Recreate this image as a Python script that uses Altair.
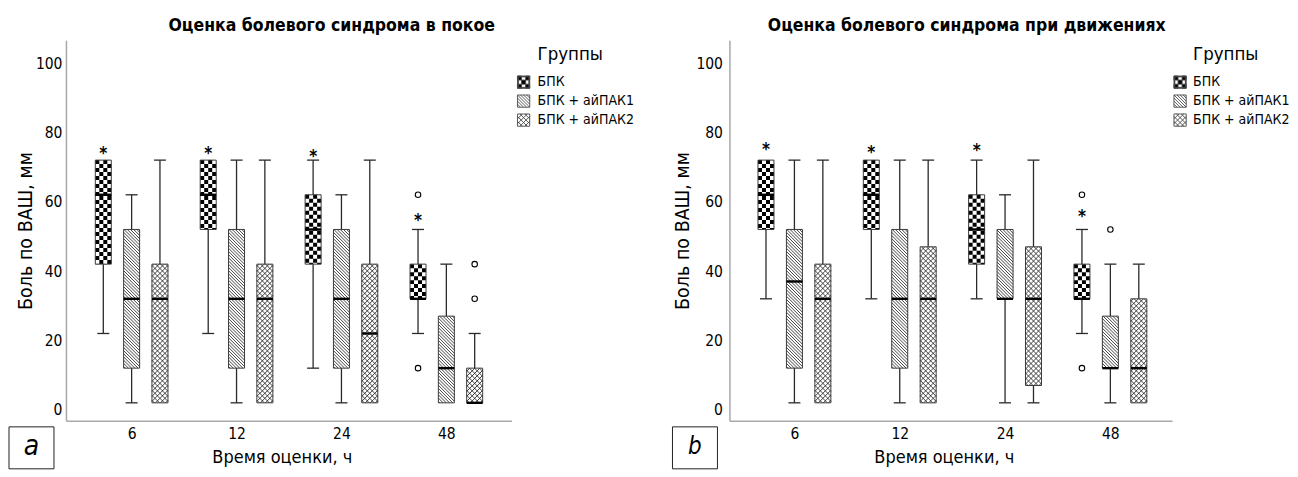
import json
import altair as alt
import pandas as pd

FONT = "Liberation Sans Narrow, DejaVu Sans Condensed, Arial Narrow, sans-serif"

# ---------------- data ----------------
times = ["6", "12", "24", "48"]
groups = ["БПК", "БПК + айПАК1", "БПК + айПАК2"]
legend_title = "Группы"
y_title = "Боль по ВАШ, мм"
x_title = "Время оценки, ч"
y_ticks = [0, 20, 40, 60, 80, 100]

# panel a: pain at rest
rest_title = "Оценка болевого синдрома в покое"
rest_min = [[22, 22, 12, 22], [2, 2, 2, 2], [2, 2, 2, 2]]
rest_q1 = [[42, 52, 42, 32], [12, 12, 12, 2], [2, 2, 2, 2]]
rest_med = [[62, 62, 52, 32], [32, 32, 32, 12], [32, 32, 22, 2]]
rest_q3 = [[72, 72, 62, 42], [52, 52, 52, 27], [42, 42, 42, 12]]
rest_max = [[72, 72, 72, 52], [62, 72, 62, 42], [72, 72, 72, 22]]
rest_out_time = [3, 3, 3, 3]
rest_out_group = [0, 0, 2, 2]
rest_out_val = [62, 12, 42, 32]
rest_star = [74.6, 74.6, 73.7, 55.4]

# panel b: pain on movement
move_title = "Оценка болевого синдрома при движениях"
move_min = [[32, 32, 32, 22], [2, 2, 2, 2], [2, 2, 2, 2]]
move_q1 = [[52, 52, 42, 32], [12, 12, 32, 12], [2, 2, 7, 2]]
move_med = [[62, 62, 52, 32], [37, 32, 32, 12], [32, 32, 32, 12]]
move_q3 = [[72, 72, 62, 42], [52, 52, 52, 27], [42, 47, 47, 32]]
move_max = [[72, 72, 72, 52], [72, 72, 62, 42], [72, 72, 72, 42]]
move_out_time = [3, 3, 3]
move_out_group = [0, 0, 1]
move_out_val = [62, 12, 52]
move_star = [75.8, 75.0, 75.6, 56.4]

# ---------------- layout / style ----------------
H = 381
YDOM = [-3.2, 106.6]
OFF = 0.27
BOX_PX = 16
AXIS_GRAY = "#a9a9a9"
TICK_FS = 15.5


def box_frame(mn, q1, md, q3, mx):
    rows = []
    for gi, g in enumerate(groups):
        for ti, t in enumerate(times):
            rows.append(dict(ti=ti, gi=gi, group=g, time=t, mn=mn[gi][ti], q1=q1[gi][ti],
                             med=md[gi][ti], q3=q3[gi][ti], mx=mx[gi][ti]))
    return pd.DataFrame(rows)


def panel(df, out_t, out_g, out_v, stars, title, letter, W, xdom, title_dx,
          lab_pad, ttl_pad, letter_size):
    kx = W / (xdom[1] - xdom[0])
    ky = H / (YDOM[1] - YDOM[0])
    hw = BOX_PX / 2 / kx
    capw = 6 / kx
    wv = BOX_PX / ky
    sh = 3.2 / ky
    sc = 5.0 / ky
    cu = 4.0 / ky
    cellx = 4.0 / kx

    xs = alt.Scale(domain=xdom, nice=False, zero=False)
    ys = alt.Scale(domain=YDOM, nice=False, zero=False)
    label_expr = json.dumps(times) + "[datum.value]"
    xaxis = alt.Axis(values=[0, 1, 2, 3], labelExpr=label_expr, ticks=False, grid=False,
                     domainColor=AXIS_GRAY, domainWidth=1.5, labelFont=FONT, labelFontSize=TICK_FS,
                     labelColor="black", labelPadding=6, title=x_title, titleFont=FONT,
                     titleFontSize=18, titleFontWeight="normal", titleColor="black",
                     titlePadding=6, titleX=W / 2 - 7)
    yaxis = alt.Axis(values=y_ticks, ticks=False, grid=False, domainColor=AXIS_GRAY,
                     domainWidth=1.5, labelFont=FONT, labelFontSize=TICK_FS, labelColor="black",
                     labelPadding=lab_pad, title=y_title, titleFont=FONT, titleFontSize=19.5,
                     titleFontWeight="normal", titleColor="black", titlePadding=ttl_pad)

    def X(f):
        return alt.X(f + ":Q", scale=xs, axis=xaxis)

    def Y(f):
        return alt.Y(f + ":Q", scale=ys, axis=yaxis)

    base = alt.Chart(df).transform_calculate(
        xpos=f"datum.ti + (datum.gi - 1) * {OFF}",
        xl=f"datum.xpos - {hw}",
        xr=f"datum.xpos + {hw}",
        cl=f"datum.xpos - {capw}",
        cr=f"datum.xpos + {capw}",
    )

    wh_up = base.transform_filter("datum.mx > datum.q3").mark_rule(
        color="#2a2a2a", strokeWidth=1.3).encode(x=X("xpos"), y=Y("q3"), y2="mx:Q")
    wh_lo = base.transform_filter("datum.mn < datum.q1").mark_rule(
        color="#2a2a2a", strokeWidth=1.3).encode(x=X("xpos"), y=Y("q1"), y2="mn:Q")
    cap_up = base.transform_filter("datum.mx > datum.q3").mark_rule(
        color="#2a2a2a", strokeWidth=1.3).encode(x=X("cl"), x2="cr:Q", y=Y("mx"))
    cap_lo = base.transform_filter("datum.mn < datum.q1").mark_rule(
        color="#2a2a2a", strokeWidth=1.3).encode(x=X("cl"), x2="cr:Q", y=Y("mn"))

    checker = base.transform_filter("datum.gi == 0").transform_calculate(
        cols="[0, 1, 2, 3]").transform_flatten(["cols"]).transform_calculate(
        ucol=f"datum.xl + (datum.cols + 0.5) * {cellx}",
        ytop=f"datum.q3 - (datum.cols % 2) * {cu}",
    ).mark_rule(color="black", strokeWidth=4, strokeDash=[4, 4], strokeCap="butt").encode(
        x=X("ucol"), y=Y("ytop"), y2="q1:Q")

    def back_hatch(b, s, phase):
        return b.transform_calculate(
            a=f"sequence(datum.q1 + {s * phase}, datum.q3 + {wv}, {s})"
        ).transform_flatten(["a"]).transform_calculate(
            ts=f"max(0, (datum.a - datum.q3) / {wv})",
            te=f"min(1, (datum.a - datum.q1) / {wv})",
        ).transform_filter("datum.te > datum.ts").transform_calculate(
            u1="datum.xl + datum.ts * (datum.xr - datum.xl)",
            v1=f"datum.a - datum.ts * {wv}",
            u2="datum.xl + datum.te * (datum.xr - datum.xl)",
            v2=f"datum.a - datum.te * {wv}",
        ).mark_rule(color="#222222", strokeWidth=0.85).encode(
            x=X("u1"), x2="u2:Q", y=Y("v1"), y2="v2:Q")

    def fwd_hatch(b, s, phase):
        return b.transform_calculate(
            a=f"sequence(datum.q1 - {wv} + {s * phase}, datum.q3, {s})"
        ).transform_flatten(["a"]).transform_calculate(
            ts=f"max(0, (datum.q1 - datum.a) / {wv})",
            te=f"min(1, (datum.q3 - datum.a) / {wv})",
        ).transform_filter("datum.te > datum.ts").transform_calculate(
            u1="datum.xl + datum.ts * (datum.xr - datum.xl)",
            v1=f"datum.a + datum.ts * {wv}",
            u2="datum.xl + datum.te * (datum.xr - datum.xl)",
            v2=f"datum.a + datum.te * {wv}",
        ).mark_rule(color="#222222", strokeWidth=0.85).encode(
            x=X("u1"), x2="u2:Q", y=Y("v1"), y2="v2:Q")

    hatch1 = back_hatch(base.transform_filter("datum.gi == 1"), sh, 0.5)
    cross1 = back_hatch(base.transform_filter("datum.gi == 2"), sc, 0.5)
    cross2 = fwd_hatch(base.transform_filter("datum.gi == 2"), sc, 0.5)

    outline = base.mark_rect(fill="transparent", stroke="#3a3a3a", strokeWidth=1).encode(
        x=X("xl"), x2="xr:Q", y=Y("q1"), y2="q3:Q")
    median = base.mark_rule(color="black", strokeWidth=2.4).encode(
        x=X("xl"), x2="xr:Q", y=Y("med"))

    odf = pd.DataFrame({"ti": out_t, "gi": out_g, "val": out_v})
    outl = alt.Chart(odf).transform_calculate(
        xpos=f"datum.ti + (datum.gi - 1) * {OFF}").mark_point(
        shape="circle", size=30, filled=False, color="black", strokeWidth=1.1, opacity=1).encode(
        x=X("xpos"), y=Y("val"))

    sdf = pd.DataFrame({"ti": list(range(len(times))), "gi": [0] * len(times), "val": stars})
    star = alt.Chart(sdf).transform_calculate(
        xpos=f"datum.ti + (datum.gi - 1) * {OFF}").mark_text(
        text="*", font=FONT, fontSize=17, fontWeight="bold", baseline="alphabetic",
        dy=8, color="black").encode(x=X("xpos"), y=Y("val"))

    one = pd.DataFrame({"t": [title], "l": [letter]})
    ttl = alt.Chart(one).mark_text(font=FONT, fontSize=17.5, fontWeight="bold",
                                   baseline="middle", align="center", color="black").encode(
        x=alt.value(W / 2 + title_dx), y=alt.value(-14), text="t:N")
    lbox = alt.Chart(one).mark_rect(fill="white", stroke="#222222", strokeWidth=1).encode(
        x=alt.value(-57), x2=alt.value(-12), y=alt.value(H + 6), y2=alt.value(H + 48))
    ltxt = alt.Chart(one).mark_text(font=FONT, fontSize=letter_size, fontStyle="italic",
                                    baseline="middle", align="center", color="black").encode(
        x=alt.value(-34.5), y=alt.value(H + 26), text="l:N")

    return alt.layer(wh_up, wh_lo, cap_up, cap_lo, checker, hatch1, cross1, cross2,
                     outline, median, outl, star, ttl, lbox, ltxt).properties(width=W, height=H)


def unit_lines(step, direction):
    segs = []
    c = -2 + step
    while c < 2 - 1e-9:
        if direction == "back":   # y = x - c
            x0, y0 = max(-1, -1 + c), max(-1, -1 - c)
            x1, y1 = min(1, 1 + c), min(1, 1 - c)
        else:                     # y = -x + c
            x0 = max(-1, c - 1)
            y0 = c - x0
            x1 = min(1, c + 1)
            y1 = c - x1
        segs.append(f"M{x0:.3f},{y0:.3f}L{x1:.3f},{y1:.3f}")
        c += step
    return "".join(segs)


frame = "M-1,-1H1V1H-1Z"
ring = "M-1,-1H1V1H-1ZM-0.86,-0.86V0.86H0.86V-0.86Z"
cells = ""
for i in range(3):
    for j in range(3):
        if (i + j) % 2 == 0:
            x0 = -1 + i * 2 / 3
            y0 = -1 + j * 2 / 3
            cells += f"M{x0:.3f},{y0:.3f}H{x0 + 2 / 3:.3f}V{y0 + 2 / 3:.3f}H{x0:.3f}Z"
sym_paths = [ring + cells,
             frame + unit_lines(0.5, "back"),
             frame + unit_lines(0.8, "back") + unit_lines(0.8, "fwd")]


def legend_view(W, sx, lx):
    ld = pd.DataFrame({"group": groups})
    ysc = alt.Scale(domain=groups, range=[42, 80], padding=0)
    sw = alt.Chart(ld).mark_point(size=150, strokeWidth=0.9, opacity=1).encode(
        x=alt.value(sx),
        y=alt.Y("group:N", scale=ysc, axis=None),
        shape=alt.Shape("group:N", scale=alt.Scale(domain=groups, range=sym_paths), legend=None),
        fill=alt.Fill("group:N", scale=alt.Scale(domain=groups,
                                                 range=["black", "transparent", "transparent"]),
                      legend=None),
        stroke=alt.value("#4a4a4a"),
    )
    lab = alt.Chart(ld).mark_text(align="left", baseline="middle", font=FONT, fontSize=14,
                                  color="black").encode(
        x=alt.value(lx), y=alt.Y("group:N", scale=ysc, axis=None), text="group:N")
    tt = alt.Chart(pd.DataFrame({"t": [legend_title]})).mark_text(
        align="left", baseline="middle", font=FONT, fontSize=18.5, color="black").encode(
        x=alt.value(lx), y=alt.value(14), text="t:N")
    return alt.layer(sw, lab, tt).properties(width=W, height=H)


df_rest = box_frame(rest_min, rest_q1, rest_med, rest_q3, rest_max)
df_move = box_frame(move_min, move_q1, move_med, move_q3, move_max)

pa = panel(df_rest, rest_out_time, rest_out_group, rest_out_val, rest_star, rest_title, "a",
           446, [-0.626, 3.622], 43, 4, 0, 28)
pb = panel(df_move, move_out_time, move_out_group, move_out_val, move_star, move_title, "b",
           443, [-0.617, 3.586], 16, 7, 3, 24)

chart = alt.hconcat(pa, legend_view(218, 12, 26), pb, legend_view(112, 8, 21),
                    spacing=0, bounds="flush")
chart = chart.properties(padding={"left": 0, "top": 9, "right": 0, "bottom": 0},
                         background="white").configure_view(stroke=None)

chart.save("out.html", embed_options={"renderer": "svg", "actions": False})
